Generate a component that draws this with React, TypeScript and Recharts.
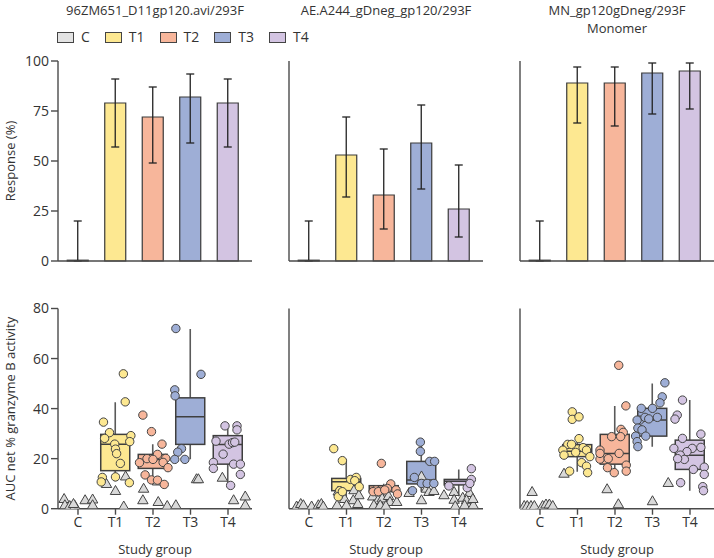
import React from 'react';
import { ComposedChart, Bar, Cell, ErrorBar, Scatter, XAxis, YAxis } from 'recharts';

const GROUPS = ['C', 'T1', 'T2', 'T3', 'T4'];
const GROUP_COLORS = ['#e3e3e3', '#fde891', '#f7b69b', '#9eaed6', '#d3c4e2'];

const TITLE_96ZM = ['96ZM651_D11gp120.avi/293F'];
const TITLE_AE = ['AE.A244_gDneg_gp120/293F'];
const TITLE_MN = ['MN_gp120gDneg/293F', 'Monomer'];

// response rate (%) and 95% CI per group
const RESP_96ZM = [0.4, 79, 72, 82, 79];
const LO_96ZM = [0, 57, 49, 59, 57];
const HI_96ZM = [20, 91, 87, 93.5, 91];

const RESP_AE = [0.4, 53, 33, 59, 26];
const LO_AE = [0, 32, 16, 36, 12];
const HI_AE = [20, 72, 56, 78, 48];

const RESP_MN = [0.4, 89, 89, 94, 95];
const LO_MN = [0, 69, 67.5, 73.5, 76];
const HI_MN = [20, 97, 97, 99, 99];

// box stats: [q1, median, q3, whisker low, whisker high]
const BOX_96ZM = [null, [15.2, 25.8, 29.7, 11, 42.5], [16.1, 19.7, 21.7, 11.5, 25.8], [25.7, 36.7, 44.3, 19.8, 71.8], [17.8, 25.7, 29.2, 9.5, 33]];
const BOX_AE = [null, [7.2, 10.8, 12.1, 3.5, 19.7], [6.8, 8.1, 9.2, 5, 10], [9.9, 11.5, 18.9, 6.8, 26.7], [9.5, 11, 11.7, 5, 15.7]];
const BOX_MN = [null, [20.8, 23, 25.6, 14.8, 28.5], [17.8, 22.1, 29.7, 15, 41], [29, 35.4, 40.1, 24.8, 50], [15.7, 21.4, 27.4, 7.2, 43.4]];

// responders: [group, jitter, AUC]
const DOTS_96ZM = [
  [1, 0.21, 53.9], [1, 0.26, 42.7], [1, -0.32, 34.6], [1, -0.16, 30.4], [1, 0.41, 29.2], [1, -0.29, 28.1], [1, -0.02, 25.8], [1, 0.38, 26.8],
  [1, 0, 23.8], [1, 0.03, 22], [1, 0.13, 18.1], [1, -0.35, 12.5], [1, -0.38, 10.7], [1, 0, 12.7], [1, 0.37, 10.4],
  [2, -0.27, 37.4], [2, -0.04, 30.8], [2, 0.24, 25.8], [2, 0.12, 21.7], [2, -0.16, 20], [2, -0.36, 18.4], [2, 0, 19.7], [2, 0.34, 20.1],
  [2, 0.27, 18.5], [2, 0.4, 16.4], [2, -0.21, 13.5], [2, -0.04, 11.5], [2, 0.12, 11.4], [2, 0.3, 9.7],
  [3, -0.39, 72], [3, 0.28, 53.7], [3, -0.42, 47.5], [3, -0.41, 45.1], [3, -0.24, 24], [3, -0.34, 22.6], [3, -0.42, 19.7], [3, -0.15, 19.7],
  [4, -0.08, 33.1], [4, 0.24, 33.1], [4, 0.24, 31.5], [4, -0.32, 27], [4, 0.03, 25.8], [4, 0.12, 26.4], [4, 0.18, 26.6], [4, -0.13, 21.8],
  [4, -0.39, 18.5], [4, -0.39, 16.1], [4, 0.15, 17.8], [4, 0.33, 17.8], [4, 0.33, 13.7], [4, 0.07, 9.3],
];
const DOTS_AE = [
  [1, -0.34, 24], [1, -0.11, 19.2], [1, 0.11, 11.7], [1, 0.26, 12.5], [1, 0.22, 11.2], [1, 0.34, 8.8], [1, -0.18, 7.2], [1, -0.22, 4.8], [1, -0.11, 6.8],
  [2, -0.07, 18.1], [2, 0.18, 9.9], [2, 0.09, 8.1], [2, -0.21, 7.5], [2, -0.29, 6.8], [2, -0.15, 6.8], [2, 0.02, 7.5], [2, 0.32, 7.5], [2, 0.36, 5.9],
  [3, -0.03, 26.6], [3, -0.03, 22.9], [3, 0.22, 18.9], [3, 0.35, 18.9], [3, -0.19, 12.5], [3, 0, 10.1], [3, 0.15, 10.1], [3, 0.33, 10.1], [3, -0.24, 7.2],
  [4, 0.33, 16], [4, 0.33, 11.7], [4, -0.27, 9.1], [4, 0.22, 8.4], [4, 0.29, 10.1],
];
const DOTS_MN = [
  [1, -0.14, 38.7], [1, -0.14, 35.7], [1, 0.04, 36.7], [1, 0.04, 28], [1, -0.26, 25.7], [1, -0.16, 25.7], [1, -0.39, 23.4], [1, 0.15, 24.4],
  [1, 0.24, 23.4], [1, 0.33, 20.8], [1, -0.36, 21.4], [1, 0.11, 18.4], [1, 0.24, 17], [1, -0.21, 15], [1, 0.27, 14.4], [1, -0.05, 22.5],
  [2, 0.1, 57.3], [2, 0.29, 41.1], [2, 0.16, 31.7], [2, 0.22, 30.5], [2, -0.09, 28.8], [2, 0.15, 28.8], [2, -0.4, 23.4], [2, 0.11, 22.1],
  [2, -0.4, 19.8], [2, -0.18, 20], [2, -0.2, 16.4], [2, 0.3, 17.4], [2, 0.3, 15], [2, -0.02, 14.4], [2, -0.4, 22.1],
  [3, 0.33, 50.3], [3, 0.26, 44.7], [3, 0.2, 42.3], [3, -0.3, 40.1], [3, 0, 40.1], [3, -0.34, 35.4], [3, -0.41, 35.4], [3, -0.2, 36.5],
  [3, 0.13, 36.5], [3, -0.1, 35.9], [3, -0.39, 32.2], [3, -0.28, 31.5], [3, -0.45, 29], [3, -0.18, 29], [3, -0.41, 26.8], [3, -0.39, 24.8],
  [4, -0.2, 43.4], [4, -0.34, 37.4], [4, -0.4, 35.8], [4, 0.29, 29.8], [4, -0.2, 28.1], [4, -0.43, 24.1], [4, 0.06, 24.1], [4, 0.29, 24.5],
  [4, -0.08, 22.8], [4, -0.26, 21.4], [4, -0.15, 19.7], [4, -0.33, 20], [4, 0.09, 15.7], [4, 0.38, 16.6], [4, 0.38, 13.7], [4, -0.25, 10.4],
  [4, 0.34, 8.8], [4, 0.36, 7.2],
];

// non-responders
const TRIS_96ZM = [
  [0, -0.37, 4], [0, -0.35, 1.5], [0, -0.22, 1.2], [0, -0.08, 1.2], [0, -0.12, 2], [0, 0.19, 3.5], [0, 0.39, 3.8], [0, 0.39, 1.5],
  [1, -0.24, 10], [1, 0, 7.2], [1, 0.27, 13], [1, 0.22, 1],
  [2, -0.25, 8.1], [2, -0.27, 3.5], [2, 0.14, 2.8], [2, 0.38, 1.2], [2, 0.12, 11],
  [3, 0.16, 11.9], [3, 0.21, 11.9], [3, -0.39, 1.5],
  [4, -0.15, 12.5], [4, 0.15, 3.5], [4, 0.46, 5], [4, 0.46, 1.5],
];
const TRIS_AE = [
  [0, -0.33, 1], [0, -0.22, 2], [0, -0.15, 1.5], [0, 0.07, 1], [0, 0.25, 1.5], [0, 0.33, 2], [0, 0.38, 1],
  [1, -0.22, 7], [1, -0.05, 4], [1, 0.2, 7.5], [1, 0.33, 5.5], [1, 0.18, 3.5], [1, -0.25, 1.5], [1, 0, 1.5], [1, 0.3, 2],
  [2, -0.3, 5], [2, -0.16, 3.5], [2, -0.05, 4.2], [2, 0.12, 5.2], [2, 0.16, 2.8], [2, 0.34, 2.8], [2, -0.27, 1.5], [2, -0.1, 1.5], [2, 0.05, 1.2],
  [3, 0, 13], [3, -0.33, 6.4], [3, 0.13, 8.1], [3, 0.2, 6.8], [3, 0.33, 7.2], [3, 0, 3.5],
  [4, -0.4, 5.5], [4, -0.13, 6.8], [4, -0.13, 3.7], [4, 0.1, 4.5], [4, 0.28, 6.4], [4, 0.2, 3.5], [4, -0.1, 1.1], [4, 0.15, 1.5], [4, 0.38, 1.5], [4, 0.37, 4],
];
const TRIS_MN = [
  [0, -0.21, 6.8], [0, -0.42, 1.2], [0, -0.34, 1.2], [0, -0.24, 1.2], [0, -0.15, 1.2], [0, 0.07, 1.2], [0, 0.16, 1.8], [0, 0.25, 1.8], [0, 0.34, 1.2],
  [1, -0.36, 14.1],
  [2, -0.21, 7.9], [2, 0.09, 1.9],
  [3, 0, 3.1], [3, 0.42, 10.4],
];

const X_DOMAIN = [-0.533, 4.64];
const X_TICKS = [0, 1, 2, 3, 4];
const AXIS = '#4a4a4a';
const TEXT = '#333';
const FONT = '"Open Sans", "Noto Sans", sans-serif';

const DotShape = (props: any) => (
  <circle cx={props.cx} cy={props.cy} r={4.2} fill={GROUP_COLORS[props.payload.g]} stroke="#444" strokeWidth={1} />
);

const TriShape = (props: any) => {
  const { cx, cy } = props;
  return (
    <path
      d={`M${cx},${cy - 5.2} L${cx + 5.2},${cy + 3.8} L${cx - 5.2},${cy + 3.8} Z`}
      fill="#d9d9d9"
      stroke="#444"
      strokeWidth={1}
      strokeLinejoin="round"
    />
  );
};

const BoxShape = (props: any) => {
  const { x, y, width, height, payload } = props;
  const s = payload && payload.stats;
  if (!s || !height) return null;
  const [q1, med, q3, wLo, wHi] = s;
  const top = Math.min(y, y + height);
  const h = Math.abs(height);
  const k = h / (q3 - q1);
  const py = (v: number) => top + (q3 - v) * k;
  const cx = x + width / 2;
  return (
    <g>
      <line x1={cx} x2={cx} y1={py(wHi)} y2={py(wLo)} stroke="#5a5a5a" strokeWidth={1.6} />
      <rect x={x} y={top} width={width} height={h} fill={GROUP_COLORS[payload.x]} stroke="#3f3f3f" strokeWidth={1.5} />
      <line x1={x} x2={x + width} y1={py(med)} y2={py(med)} stroke="#3f3f3f" strokeWidth={1.5} />
    </g>
  );
};

function ResponsePanel({ left, resp, lo, hi, first }: any) {
  const data = GROUPS.map((g, i) => ({ x: i, name: g, value: resp[i], err: [resp[i] - lo[i], hi[i] - resp[i]] }));
  return (
    <div style={{ position: 'absolute', left, top: 50 }}>
      <ComposedChart width={252} height={226} data={data} margin={{ top: 11, right: 0, bottom: 0, left: 0 }}>
        <XAxis
          dataKey="x"
          type="number"
          domain={X_DOMAIN}
          ticks={X_TICKS}
          allowDataOverflow
          tick={false}
          tickSize={6}
          height={15}
          axisLine={{ stroke: AXIS, strokeWidth: 1.4 }}
          tickLine={{ stroke: AXIS, strokeWidth: 1.4 }}
        />
        <YAxis
          type="number"
          domain={[0, 100]}
          ticks={[0, 25, 50, 75, 100]}
          width={58}
          tickSize={7}
          tick={first ? { fontSize: 14, fill: TEXT, fontFamily: FONT } : false}
          axisLine={{ stroke: AXIS, strokeWidth: 1.4 }}
          tickLine={{ stroke: AXIS, strokeWidth: 1.4 }}
          label={first ? { value: 'Response (%)', angle: -90, position: 'insideLeft', offset: 10, style: { textAnchor: 'middle', fontSize: 13, fill: TEXT, fontFamily: FONT } } : undefined}
        />
        <Bar dataKey="value" barSize={21} stroke="#3a3a3a" strokeWidth={1.2} isAnimationActive={false}>
          {data.map((d, i) => (
            <Cell key={i} fill={GROUP_COLORS[i]} />
          ))}
          <ErrorBar dataKey="err" width={4} stroke="#222" strokeWidth={1.3} direction="y" isAnimationActive={false} />
        </Bar>
      </ComposedChart>
    </div>
  );
}

function ActivityPanel({ left, boxes, dots, tris, first }: any) {
  const data = GROUPS.map((g, i) => ({ x: i, name: g, box: boxes[i] ? [boxes[i][0], boxes[i][2]] : null, stats: boxes[i] }));
  const dotData = dots.map(([g, dx, v]: number[]) => ({ x: g + dx, y: v, g }));
  const triData = tris.map(([g, dx, v]: number[]) => ({ x: g + dx, y: v, g }));
  return (
    <div style={{ position: 'absolute', left, top: 298 }}>
      <ComposedChart width={252} height={260} data={data} margin={{ top: 10.5, right: 0, bottom: 4.3, left: 0 }}>
        <XAxis
          dataKey="x"
          type="number"
          domain={X_DOMAIN}
          ticks={X_TICKS}
          allowDataOverflow
          tickFormatter={(v) => GROUPS[v]}
          tick={{ fontSize: 14, fill: TEXT, fontFamily: FONT }}
          tickSize={6}
          height={45}
          axisLine={{ stroke: AXIS, strokeWidth: 1.4 }}
          tickLine={{ stroke: AXIS, strokeWidth: 1.4 }}
          label={{ value: 'Study group', position: 'insideBottom', offset: 0, style: { fontSize: 13, fill: TEXT, fontFamily: FONT } }}
        />
        {/* separate hidden axis so the jittered points don't shrink the box width */}
        <XAxis xAxisId="box" dataKey="x" type="number" domain={X_DOMAIN} ticks={X_TICKS} allowDataOverflow hide />
        <YAxis
          dataKey="y"
          type="number"
          domain={[0, 80]}
          ticks={[0, 20, 40, 60, 80]}
          allowDataOverflow
          width={58}
          tickSize={7}
          tick={first ? { fontSize: 14, fill: TEXT, fontFamily: FONT } : false}
          axisLine={{ stroke: AXIS, strokeWidth: 1.4 }}
          tickLine={{ stroke: AXIS, strokeWidth: 1.4 }}
          label={first ? { value: 'AUC net % granzyme B activity', angle: -90, position: 'insideLeft', offset: 10, style: { textAnchor: 'middle', fontSize: 13, fill: TEXT, fontFamily: FONT } } : undefined}
        />
        <Bar xAxisId="box" dataKey="box" barSize={29} shape={BoxShape} isAnimationActive={false} />
        <Scatter data={triData} shape={TriShape} isAnimationActive={false} />
        <Scatter data={dotData} shape={DotShape} isAnimationActive={false} />
      </ComposedChart>
    </div>
  );
}

function Title({ left, lines }: any) {
  return (
    <div style={{ position: 'absolute', left, top: 1, width: 194, textAlign: 'center', fontSize: 13, lineHeight: '18px', color: TEXT }}>
      {lines.map((l: string) => (
        <div key={l}>{l}</div>
      ))}
    </div>
  );
}

function Legend() {
  return (
    <div style={{ position: 'absolute', left: 57, top: 29, display: 'flex', alignItems: 'center', fontSize: 14, color: TEXT }}>
      {GROUPS.map((g, i) => (
        <div key={g} style={{ display: 'flex', alignItems: 'center', marginRight: 15 }}>
          <div style={{ width: 15, height: 9, background: GROUP_COLORS[i], border: '1px solid #444', marginRight: 7 }} />
          <span style={{ lineHeight: '16px' }}>{g}</span>
        </div>
      ))}
    </div>
  );
}

export default function App() {
  return (
    <div style={{ position: 'absolute', left: 0, top: 0, width: 714, height: 558, background: '#fff', fontFamily: FONT, overflow: 'hidden' }}>
      <Title left={58} lines={TITLE_96ZM} />
      <Title left={289} lines={TITLE_AE} />
      <Title left={520} lines={TITLE_MN} />
      <Legend />
      <ResponsePanel left={0} resp={RESP_96ZM} lo={LO_96ZM} hi={HI_96ZM} first />
      <ResponsePanel left={231} resp={RESP_AE} lo={LO_AE} hi={HI_AE} />
      <ResponsePanel left={462} resp={RESP_MN} lo={LO_MN} hi={HI_MN} />
      <ActivityPanel left={0} boxes={BOX_96ZM} dots={DOTS_96ZM} tris={TRIS_96ZM} first />
      <ActivityPanel left={231} boxes={BOX_AE} dots={DOTS_AE} tris={TRIS_AE} />
      <ActivityPanel left={462} boxes={BOX_MN} dots={DOTS_MN} tris={TRIS_MN} />
    </div>
  );
}
